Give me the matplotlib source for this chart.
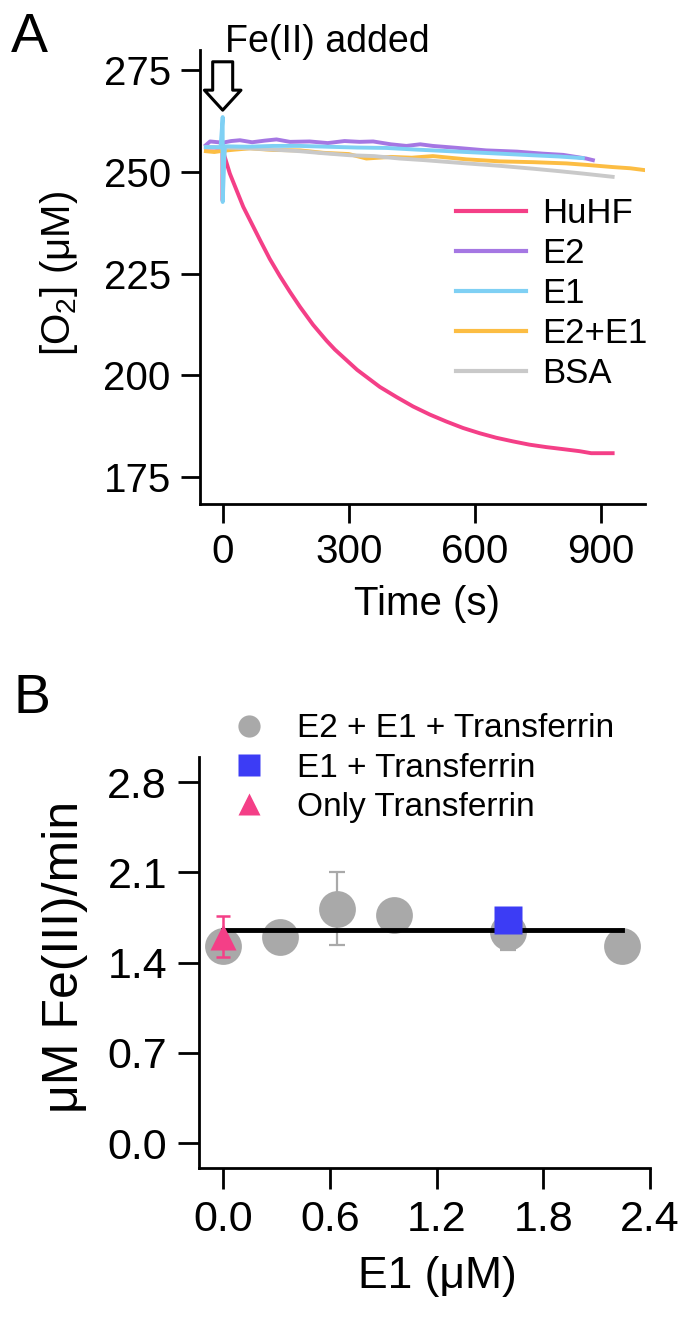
import matplotlib
matplotlib.use("Agg")
import matplotlib.pyplot as plt
from matplotlib.lines import Line2D

plt.rcParams['font.family'] = ['Liberation Sans', 'DejaVu Sans']
plt.rcParams['mathtext.default'] = 'regular'

# ---- panel A: O2 consumption traces ----
t_huhf = [-40, -20, 0, 0, 0, 5.5, 17, 33, 49, 69, 89, 112, 136, 160, 184, 215, 247, 267, 320,
          374, 414, 453, 493, 532, 572, 612, 651, 691, 730, 770, 810, 849, 877, 928]
o2_huhf = [256.0, 256.0, 255.8, 243.0, 255.3, 253.5, 249.6, 245.5, 241.4, 237.3, 233.2, 228.6,
           224.4, 220.5, 216.8, 212.4, 208.5, 206.3, 201.3, 197.1, 194.6, 192.3, 190.3, 188.6,
           187.0, 185.7, 184.6, 183.7, 182.9, 182.3, 181.8, 181.3, 180.8, 180.8]

t_e2 = [-40, -30, 0, 20, 41, 70, 100, 128, 160, 207, 250, 290, 326, 358, 400, 437, 470, 500,
        560, 627, 700, 762, 810, 865, 881]
o2_e2 = [256.6, 257.5, 257.2, 257.6, 257.8, 257.3, 257.7, 258.0, 257.4, 257.5, 257.1, 257.6,
         257.4, 257.5, 256.8, 256.4, 256.8, 256.4, 255.9, 255.3, 255.0, 254.5, 254.2, 253.3, 252.9]

t_e1 = [-40, -5, 0, 0, 5, 60, 120, 184, 250, 320, 390, 460, 520, 580, 660, 738, 800, 857]
o2_e1 = [256.1, 256.1, 263.5, 242.6, 256.3, 256.2, 256.4, 256.4, 256.2, 256.0, 255.9, 255.5,
         255.2, 254.9, 254.5, 254.1, 253.8, 253.4]

t_e2e1 = [-40, -20, 0, 30, 65, 120, 184, 240, 300, 342, 400, 450, 500, 580, 659, 740, 818, 870,
          928, 970, 1008]
o2_e2e1 = [255.1, 254.9, 255.2, 255.5, 255.8, 255.4, 255.3, 254.7, 254.4, 253.3, 253.7, 253.5,
           253.9, 253.1, 252.6, 252.4, 252.1, 251.7, 251.2, 250.9, 250.4]

t_bsa = [-40, -10, 0, 0, 5, 65, 120, 184, 240, 303, 360, 421, 480, 580, 660, 738, 800, 857, 928]
o2_bsa = [256.1, 256.0, 256.0, 249.5, 256.0, 255.8, 255.5, 255.1, 254.6, 254.1, 253.9, 253.3,
          252.9, 252.1, 251.5, 250.8, 250.2, 249.6, 248.8]

# ---- panel B: Fe(III) transfer rates ----
x_all = [0.0, 0.32, 0.64, 0.96, 1.6, 2.24]
y_all = [1.53, 1.60, 1.82, 1.77, 1.635, 1.53]
err_all = [0.04, 0.03, 0.28, 0.03, 0.14, 0.03]

x_e1 = [1.6]
y_e1 = [1.73]
err_e1 = [0.05]

x_tf = [0.0]
y_tf = [1.60]
err_tf = [0.16]

fit_level = 1.65

PINK = '#f43f87'
PURPLE = '#a577e3'
CYAN = '#7fd0f4'
ORANGE = '#fcbd43'
LGRAY = '#c9c9c9'
GRAY = '#a9a9a9'
BLUE = '#3c3cf5'

fig = plt.figure(figsize=(6.91, 13.22), dpi=100)
W, H = 691.0, 1322.0


def style_axes(ax, fs, pad):
    for s in ('top', 'right'):
        ax.spines[s].set_visible(False)
    for s in ('left', 'bottom'):
        ax.spines[s].set_linewidth(2.0)
    ax.tick_params(direction='out', length=14, width=2.0, labelsize=fs, pad=pad)


# ================= A =================
axA = fig.add_axes([200 / W, 1 - 504 / H, 445 / W, 454 / H])
axA.plot(t_huhf, o2_huhf, color=PINK, lw=2.8, label='HuHF')
axA.plot(t_e2, o2_e2, color=PURPLE, lw=2.8, label='E2')
axA.plot(t_e2e1, o2_e2e1, color=ORANGE, lw=2.8, label='E2+E1')
axA.plot(t_bsa, o2_bsa, color=LGRAY, lw=2.8, label='BSA')
axA.plot(t_e1, o2_e1, color=CYAN, lw=2.8, label='E1')

axA.set_xlim(-54, 1005)
axA.set_ylim(168.3, 280)
axA.set_xticks([0, 300, 600, 900])
axA.set_yticks([175, 200, 225, 250, 275])
style_axes(axA, 29, 7)
axA.set_xlabel('Time (s)', fontsize=29)
axA.set_ylabel('[O$_2$] (μM)', fontsize=29)
axA.xaxis.set_label_coords(0.51, -0.178)
axA.yaxis.set_label_coords(-0.27, 0.508)

handles = [Line2D([], [], color=c, lw=3) for c in (PINK, PURPLE, CYAN, ORANGE, LGRAY)]
axA.legend(handles, ['HuHF', 'E2', 'E1', 'E2+E1', 'BSA'], loc='upper left',
           bbox_to_anchor=(0.576, 0.676), frameon=False, fontsize=25,
           handlelength=2.0, handletextpad=0.46, labelspacing=0.2,
           borderpad=0, borderaxespad=0)

axA.annotate('', xy=(0, 265.2), xytext=(0, 277.1),
             arrowprops=dict(arrowstyle='simple,head_width=1.83,head_length=1.0,tail_width=1.0',
                             fc='white', ec='black', lw=2.2, mutation_scale=14.4,
                             shrinkA=0, shrinkB=0))
axA.text(0.0555, 0.996, 'Fe(II) added', transform=axA.transAxes, fontsize=27,
         va='baseline', ha='left')
fig.text(11 / W, 1 - 51.7 / H, 'A', fontsize=40, va='baseline')

# ================= B =================
axB = fig.add_axes([199 / W, 1 - 1168 / H, 451 / W, 411.5 / H])
axB.errorbar(x_all, y_all, yerr=err_all, fmt='none', ecolor=GRAY, elinewidth=1.6,
             capsize=5.8, capthick=1.6, zorder=2)
axB.plot(x_all, y_all, 'o', color=GRAY, ms=26.5, mec='none', zorder=3)
axB.plot([x_all[0], x_all[-1]], [fit_level, fit_level], color='black', lw=3.5, zorder=4)
axB.errorbar(x_e1, y_e1, yerr=err_e1, fmt='none', ecolor=BLUE, elinewidth=1.8,
             capsize=4.7, capthick=1.8, zorder=5)
axB.plot(x_e1, y_e1, 's', color=BLUE, ms=20, mec='none', zorder=6)
axB.errorbar(x_tf, y_tf, yerr=err_tf, fmt='none', ecolor=PINK, elinewidth=1.8,
             capsize=4.7, capthick=1.8, zorder=5)
axB.plot(x_tf, y_tf, '^', color=PINK, ms=19, mec='none', zorder=6)

axB.set_xlim(-0.137, 2.4)
axB.set_ylim(-0.194, 3.0)
axB.set_xticks([0.0, 0.6, 1.2, 1.8, 2.4])
axB.set_yticks([0.0, 0.7, 1.4, 2.1, 2.8])
axB.xaxis.set_major_formatter(plt.FormatStrFormatter('%.1f'))
axB.yaxis.set_major_formatter(plt.FormatStrFormatter('%.1f'))
style_axes(axB, 31, 8)
axB.tick_params(length=15)
axB.set_xlabel('E1 (μM)', fontsize=32)
axB.set_ylabel('μM Fe(III)/min', fontsize=36)
axB.xaxis.set_label_coords(0.528, -0.215)
axB.yaxis.set_label_coords(-0.246, 0.513)

handlesB = [Line2D([], [], ls='none', marker='o', color=GRAY, ms=16, mec='none'),
            Line2D([], [], ls='none', marker='s', color=BLUE, ms=16, mec='none'),
            Line2D([], [], ls='none', marker='^', color=PINK, ms=16, mec='none')]
axB.legend(handlesB, ['E2 + E1 + Transferrin', 'E1 + Transferrin', 'Only Transferrin'],
           loc='upper left', bbox_to_anchor=(0.074, 1.105), frameon=False, fontsize=24,
           handlelength=1.0, handletextpad=0.95, labelspacing=0.25,
           borderpad=0, borderaxespad=0)
fig.text(13 / W, 1 - 713 / H, 'B', fontsize=40, va='baseline')

fig.savefig('out.png', dpi=100)
